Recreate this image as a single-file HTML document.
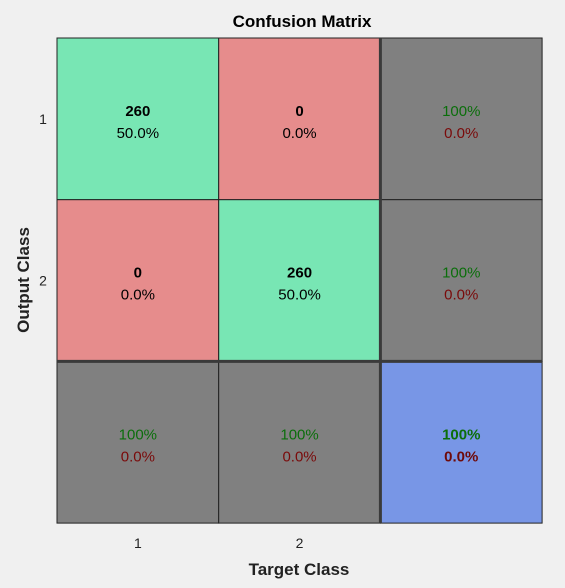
<!DOCTYPE html>
<html><head><meta charset="utf-8"><style>
html,body{margin:0;padding:0;background:#f0f0f0;}
svg{display:block;font-family:"Liberation Sans",Arial,sans-serif;}
</style></head><body>
<svg id="chart" width="565" height="588"></svg>
<script>
const classes = ["1","2"];
const counts = [[260,0],[0,260]];
const total = 520;
const NS="http://www.w3.org/2000/svg";
const svg=document.getElementById('chart');
const x0=57,y0=38,cw=161.7,ch=161.7;
const n=classes.length;
function colX(i){return x0+i*cw;}
function rowY(i){return y0+i*ch;}
function el(tag,attrs,parent){const e=document.createElementNS(NS,tag);for(const k in attrs)e.setAttribute(k,attrs[k]);(parent||svg).appendChild(e);return e;}
function txt(x,y,s,fill,bold,size){const t=el('text',{x:x,y:y,'text-anchor':'middle','font-size':size||15,fill:fill,'font-weight':bold?'bold':'normal'});t.textContent=s;return t;}
function pct(v){return (v*100).toFixed(1)+'%';}
function pctShort(v){const p=v*100;return (Math.abs(p-Math.round(p))<1e-9?Math.round(p):p.toFixed(1))+'%';}
const colTot=classes.map((c,j)=>counts.reduce((s,r)=>s+r[j],0));
const rowTot=counts.map(r=>r.reduce((a,b)=>a+b,0));
let correct=0;for(let i=0;i<n;i++)correct+=counts[i][i];
for(let i=0;i<=n;i++){for(let j=0;j<=n;j++){
  const g=el('g',{});
  
  
  let fill,l1,l2,c1,c2,b=false;
  const cx=colX(j)+cw/2, cy=rowY(i)+ch/2;
  if(i<n&&j<n){
    fill=i===j?'#78e6b4':'#e68c8c';
    l1=String(counts[i][j]);l2=pct(counts[i][j]/total);c1='#000';c2='#000';b=true;
  } else if(i<n){
    fill='#808080';const a=rowTot[i]?counts[i][i]/rowTot[i]:0;l1=pctShort(a);l2=pct(1-a);c1='#0b6e0b';c2='#7a0a0a';
  } else if(j<n){
    fill='#808080';const a=colTot[j]?counts[j][j]/colTot[j]:0;l1=pctShort(a);l2=pct(1-a);c1='#0b6e0b';c2='#7a0a0a';
  } else {
    fill='#7896e6';const a=correct/total;l1=pctShort(a);l2=pct(1-a);c1='#0b6e0b';c2='#6e0a0a';b=true;
  }
  el('rect',{x:colX(j),y:rowY(i),width:cw,height:ch,fill:fill,stroke:'#222','stroke-width':1},g);
  const t1=txt(cx,cy-3,l1,c1,b,15);g.appendChild(t1);
  const t2=txt(cx,cy+19,l2,c2,(i===n&&j===n),15);g.appendChild(t2);
}}
el('line',{x1:colX(n),y1:y0,x2:colX(n),y2:y0+(n+1)*ch,stroke:'#3a3a3a','stroke-width':3});
el('line',{x1:x0,y1:rowY(n),x2:x0+(n+1)*cw,y2:rowY(n),stroke:'#3a3a3a','stroke-width':3});
classes.forEach((c,i)=>{
  const t=txt(colX(i)+cw/2,548,c,'#222',false,14);
  
  
  const r=el('text',{x:43,y:rowY(i)+ch/2+5,'text-anchor':'middle','font-size':14,fill:'#222'});
  r.textContent=c;
  
  
});
const title=txt(302,27,'Confusion Matrix','#000',true,17);


const xt=txt(299,575,'Target Class','#222',true,17);


const yt=el('text',{x:0,y:0,'text-anchor':'middle','font-size':17,'font-weight':'bold',fill:'#222',transform:'translate(29,280) rotate(-90)'});
yt.textContent='Output Class';


</script>
</body></html>
